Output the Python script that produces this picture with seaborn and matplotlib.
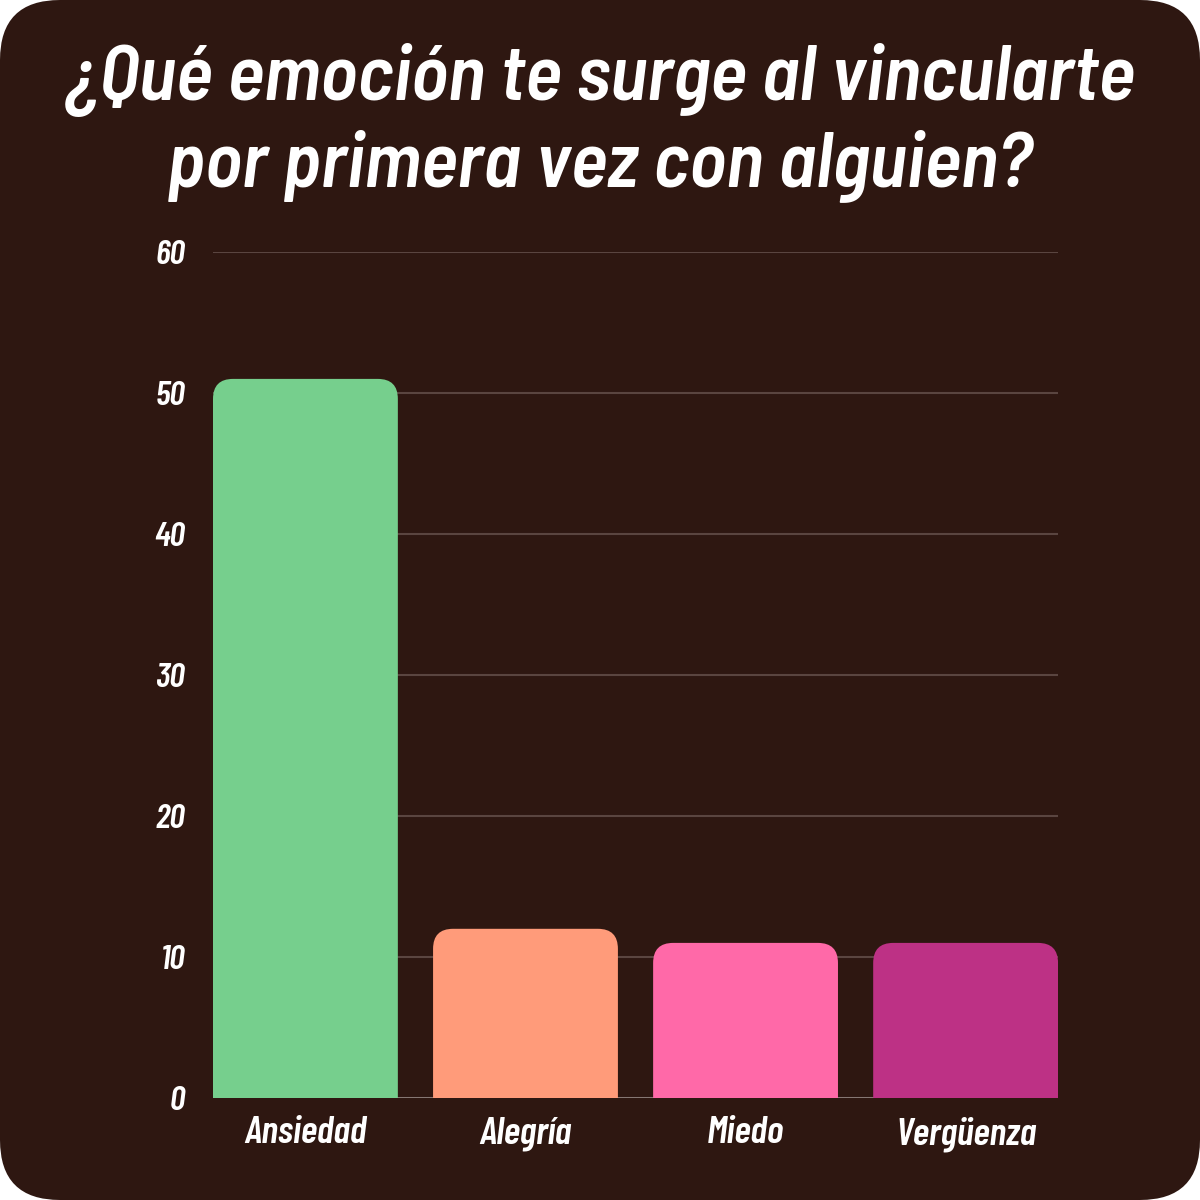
import matplotlib
matplotlib.use("Agg")
import matplotlib.pyplot as plt
import seaborn as sns
import pandas as pd
from matplotlib.patches import FancyBboxPatch

categories = ["Ansiedad", "Alegría", "Miedo", "Vergüenza"]
values = [51, 12, 11, 11]
colors = ["#76CF8D", "#FF9B7A", "#FF69A8", "#BD3185"]
yticks = [0, 10, 20, 30, 40, 50, 60]
title = "¿Qué emoción te surge al vincularte\npor primera vez con alguien?"

BG = "#2E1711"
sns.set_theme(style="white")
plt.rcParams['font.family'] = ['Barlow Condensed', 'DejaVu Sans']

fig = plt.figure(figsize=(12, 12), dpi=100)
fig.patch.set_facecolor("white")
bgbox = FancyBboxPatch((0.0, 0.0), 1.0, 1.0, boxstyle="round,pad=0,rounding_size=0.05",
                       transform=fig.transFigure, facecolor=BG, edgecolor="none", zorder=-10)
fig.patches.append(bgbox)

BW = 0.84
ax = fig.add_axes([0.1775, 0.085, 0.7042, 0.705])
ax.set_facecolor("none")
df = pd.DataFrame({"cat": categories, "val": values})
sns.barplot(data=df, x="cat", y="val", hue="cat", palette=colors, legend=False,
            width=BW, ax=ax, saturation=1)

ax.set_xlim(-BW / 2, len(categories) - 1 + BW / 2)
ax.set_ylim(0, 60)
ax.set_yticks(yticks)
ax.grid(axis="y", color="#5A4540", linewidth=1.5, zorder=0)
ax.set_axisbelow(True)
for s in ax.spines.values():
    s.set_visible(False)
ax.axhline(0, color="#8C7E7A", linewidth=2, zorder=1)

# replace bars with rounded-top versions
bars = list(ax.patches)
for p in bars:
    x0 = p.get_x(); w = p.get_width(); h = p.get_height()
    fc = p.get_facecolor()
    p.set_visible(False)
    r = 0.091
    asp = 15.6
    ext = 3.0
    rb = FancyBboxPatch((x0, -ext), w, h + ext,
                        boxstyle=f"round,pad=0,rounding_size={r}",
                        mutation_aspect=asp, facecolor=fc, edgecolor="none",
                        zorder=2, clip_on=True)
    ax.add_patch(rb)
    rb.set_clip_path(ax.patch)

ax.set_xlabel("")
ax.set_ylabel("")
ax.tick_params(axis="both", length=0, colors="white")
ax.tick_params(axis="y", pad=20)
ax.tick_params(axis="x", pad=13)
for lab in ax.get_yticklabels():
    lab.set_fontsize(25); lab.set_fontweight(600); lab.set_fontstyle("italic"); lab.set_color("white")
for lab in ax.get_xticklabels():
    lab.set_fontsize(28); lab.set_fontweight(600); lab.set_fontstyle("italic"); lab.set_color("white")

fig.text(0.5, 0.898, title, ha="center", va="center", fontsize=56, fontweight=600,
         fontstyle="italic", color="white", linespacing=1.2,
         family=['Barlow Semi Condensed', 'DejaVu Sans'])

fig.savefig("out.png", dpi=100, facecolor=fig.get_facecolor())
